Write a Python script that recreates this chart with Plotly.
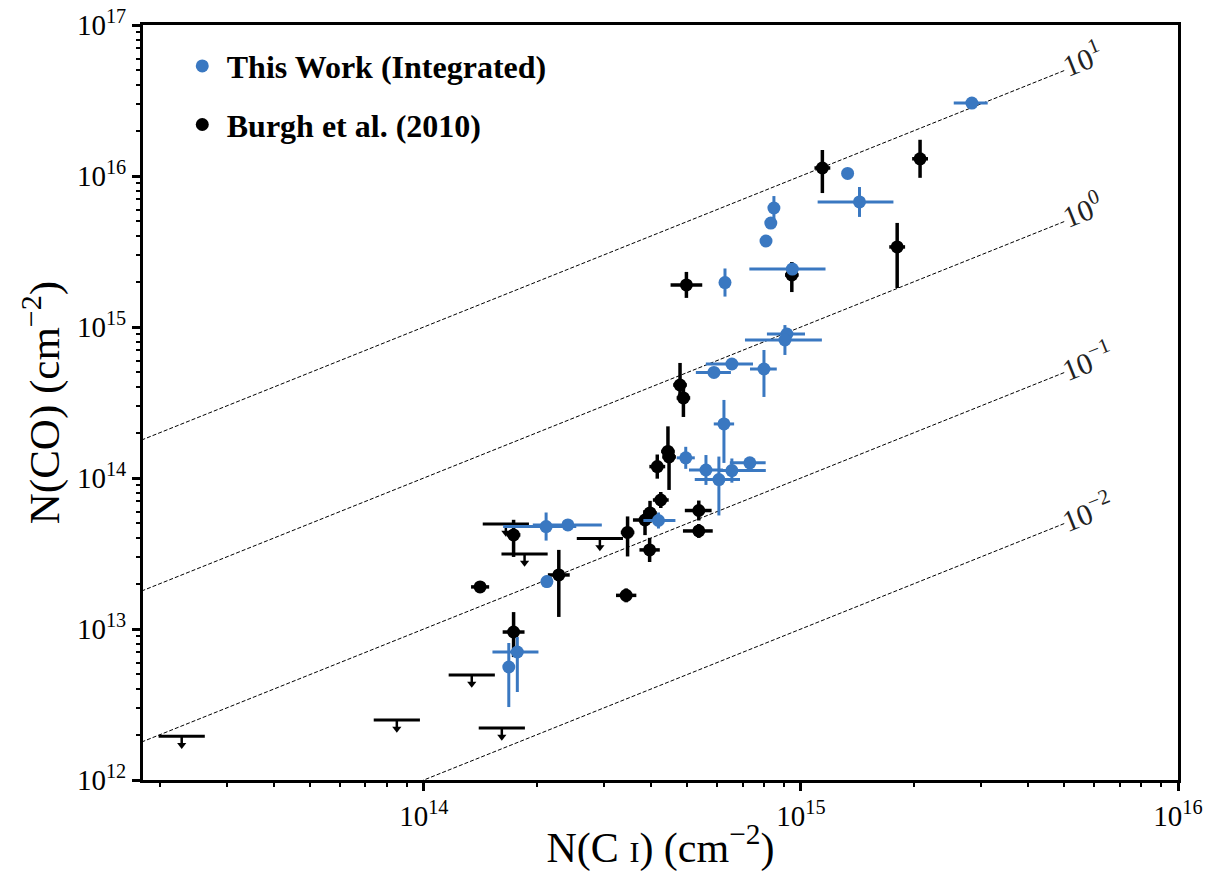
import numpy as np
import plotly.graph_objects as go

# ---------------- data ----------------
# This Work (Integrated): N(C I), N(CO) in cm^-2; errors in dex (lo / hi)
tw_nci = [2.84e15, 1.33e15, 1.43e15, 8.48e14, 8.32e14, 8.08e14, 9.49e14, 6.29e14,
          9.18e14, 9.07e14, 6.56e14, 5.88e14, 7.98e14, 6.25e14, 4.95e14, 7.32e14,
          5.60e14, 6.56e14, 6.06e14, 4.19e14, 2.11e14, 2.41e14, 2.12e14, 1.77e14, 1.68e14]
tw_nco = [3.04e16, 1.04e16, 6.73e15, 6.14e15, 4.88e15, 3.71e15, 2.42e15, 1.97e15,
          8.99e14, 8.20e14, 5.69e14, 5.00e14, 5.27e14, 2.28e14, 1.36e14, 1.26e14,
          1.13e14, 1.12e14, 9.77e13, 5.23e13, 4.77e13, 4.89e13, 2.06e13, 7.04e12, 5.60e12]
tw_nci_lo = [0.048, 0, 0.111, 0, 0, 0, 0.114, 0, 0.053, 0.106, 0.069, 0.048, 0.037,
             0.027, 0.024, 0.053, 0.045, 0.032, 0.064, 0.040, 0.114, 0.093, 0, 0.066, 0.010]
tw_nci_hi = [0.042, 0, 0.090, 0, 0, 0, 0.088, 0, 0.048, 0.098, 0.056, 0.045, 0.034,
             0.027, 0.024, 0.042, 0.045, 0.090, 0.056, 0.045, 0.080, 0.090, 0, 0.056, 0.010]
tw_nco_lo = [0, 0, 0.099, 0.079, 0, 0, 0.04, 0.093, 0.04, 0.099, 0.03, 0, 0.185,
             0.258, 0.073, 0.026, 0.099, 0.08, 0.238, 0.053, 0.093, 0.033, 0.04, 0.265, 0.265]
tw_nco_hi = [0, 0, 0.099, 0.079, 0, 0, 0.04, 0.093, 0.04, 0.099, 0.03, 0, 0.126,
             0.159, 0.073, 0.026, 0.099, 0.08, 0.152, 0.053, 0.093, 0.033, 0.04, 0.099, 0.159]

# Burgh et al. (2010) detections
bu_nci = [2.07e15, 1.14e15, 1.80e15, 9.46e14, 4.97e14, 4.78e14, 4.88e14, 4.44e14,
          4.47e14, 4.16e14, 4.25e14, 3.98e14, 3.86e14, 3.47e14, 3.97e14, 3.44e14,
          5.36e14, 5.36e14, 1.73e14, 1.41e14, 1.73e14, 2.28e14]
bu_nco = [1.30e16, 1.13e16, 3.39e15, 2.21e15, 1.90e15, 4.13e14, 3.39e14, 1.50e14,
          1.38e14, 1.19e14, 7.15e13, 5.87e13, 5.27e13, 4.36e13, 3.34e13, 1.67e13,
          6.09e13, 4.46e13, 4.20e13, 1.90e13, 9.55e12, 2.28e13]
bu_nci_lo = [0.021, 0.021, 0.021, 0.018, 0.042, 0.018, 0.018, 0.018, 0.018, 0.021, 0.021,
             0.018, 0.032, 0.018, 0.027, 0.027, 0.037, 0.042, 0.018, 0.024, 0.029, 0.029]
bu_nci_hi = [0.021, 0.021, 0.021, 0.018, 0.042, 0.018, 0.018, 0.018, 0.018, 0.021, 0.021,
             0.018, 0.032, 0.018, 0.027, 0.027, 0.034, 0.037, 0.018, 0.024, 0.029, 0.029]
bu_nco_lo = [0.126, 0.166, 0.272, 0.113, 0.086, 0.066, 0.126, 0.066, 0.219, 0.08, 0.053,
             0.066, 0.10, 0.159, 0.08, 0.046, 0.066, 0.046, 0.146, 0.026, 0.166, 0.278]
bu_nco_hi = [0.126, 0.119, 0.159, 0.086, 0.086, 0.146, 0.066, 0.166, 0.066, 0.08, 0.053,
             0.08, 0.066, 0.106, 0.08, 0.046, 0.066, 0.046, 0.10, 0.026, 0.132, 0.166]

# Burgh et al. (2010) upper limits on N(CO)
ul_nci = [2.28e13, 8.48e13, 1.34e14, 1.61e14, 1.65e14, 1.85e14, 2.93e14]
ul_nco = [1.95e12, 2.50e12, 4.96e12, 2.21e12, 4.96e13, 3.14e13, 3.97e13]

# constant N(CO)/N(C I) ratio lines
ratios = [10.0, 1.0, 0.1, 0.01]
ratio_labels = ["10<sup>1</sup>", "10<sup>0</sup>", "10<sup>\u22121</sup>", "10<sup>\u22122</sup>"]
ratio_x_span = [1.0e13, 5.0e15]

# axis ticks
x_major = [1e14, 1e15, 1e16]
x_major_text = ["10<sup>14</sup>", "10<sup>15</sup>", "10<sup>16</sup>"]
y_major = [1e12, 1e13, 1e14, 1e15, 1e16, 1e17]
y_major_text = ["10<sup>12</sup>", "10<sup>13</sup>", "10<sup>14</sup>",
                "10<sup>15</sup>", "10<sup>16</sup>", "10<sup>17</sup>"]

BLUE = "#3a78c1"
SERIF = "Liberation Serif"


def err_lin(vals, lo, hi):
    v = np.asarray(vals)
    plus = v * (10 ** np.asarray(hi) - 1)
    minus = v * (1 - 10 ** (-np.asarray(lo)))
    return plus, minus


fig = go.Figure()

for r in ratios:
    fig.add_trace(go.Scatter(
        x=ratio_x_span, y=[r * v for v in ratio_x_span], mode="lines",
        line=dict(color="black", width=1, dash="4px,2px"),
        showlegend=False, hoverinfo="skip"))

# Burgh detections
bxp, bxm = err_lin(bu_nci, bu_nci_lo, bu_nci_hi)
byp, bym = err_lin(bu_nco, bu_nco_lo, bu_nco_hi)
fig.add_trace(go.Scatter(
    x=bu_nci, y=bu_nco, mode="markers", name="<b>Burgh et al. (2010)</b>",
    marker=dict(color="black", size=13),
    error_x=dict(type="data", symmetric=False, array=bxp, arrayminus=bxm,
                 color="black", thickness=3.5, width=0),
    error_y=dict(type="data", symmetric=False, array=byp, arrayminus=bym,
                 color="black", thickness=3.5, width=0),
    legendgroup="b", legendrank=2))

# Upper limits: bar + downward arrow
ul = np.asarray(ul_nco)
shaft = ul * (1 - 10 ** (-0.05))
fig.add_trace(go.Scatter(
    x=ul_nci, y=ul_nco, mode="markers", showlegend=False,
    marker=dict(symbol="line-ew", size=33, color="black",
                line=dict(color="black", width=3)),
    error_y=dict(type="data", symmetric=False, array=np.zeros_like(ul),
                 arrayminus=shaft, color="black", thickness=2.5, width=0)))
fig.add_trace(go.Scatter(
    x=ul_nci, y=ul * 10 ** (-0.058), mode="markers", showlegend=False,
    marker=dict(symbol="triangle-down", size=8, color="black", line=dict(width=0))))

# This work
txp, txm = err_lin(tw_nci, tw_nci_lo, tw_nci_hi)
typ, tym = err_lin(tw_nco, tw_nco_lo, tw_nco_hi)
fig.add_trace(go.Scatter(
    x=tw_nci, y=tw_nco, mode="markers", name="<b>This Work (Integrated)</b>",
    marker=dict(color=BLUE, size=13),
    error_x=dict(type="data", symmetric=False, array=txp, arrayminus=txm,
                 color=BLUE, thickness=3, width=0),
    error_y=dict(type="data", symmetric=False, array=typ, arrayminus=tym,
                 color=BLUE, thickness=3, width=0),
    legendgroup="a", legendrank=1))

# ratio labels
for r, lab in zip(ratios, ratio_labels):
    xe = ratio_x_span[1]
    fig.add_annotation(x=np.log10(xe), y=np.log10(r * xe), text=lab, showarrow=False,
                       xanchor="left", yanchor="middle", xshift=-11, yshift=12,
                       textangle=-21.8, font=dict(family=SERIF, size=30, color="#222222"))

minor_x = [m * 10 ** e for e in range(13, 16) for m in range(2, 10)]
minor_y = [m * 10 ** e for e in range(12, 17) for m in range(2, 10)]

axis_common = dict(
    type="log", showgrid=False, zeroline=False, showline=True, linewidth=3,
    linecolor="black", mirror=True, ticks="outside", ticklen=8, tickwidth=2.5,
    tickcolor="black", tickmode="array", automargin=False,
    tickfont=dict(family=SERIF, size=29, color="black"))

fig.update_xaxes(**axis_common, range=[np.log10(1.8e13), 16],
                 tickvals=x_major, ticktext=x_major_text,
                 minor=dict(ticks="outside", ticklen=4, tickwidth=2, tickcolor="black",
                            tickvals=minor_x, showgrid=False),
                 title=dict(text="N(C <span style='font-size:30px'>I</span>) (cm<sup>\u22122</sup>)",
                            font=dict(family=SERIF, size=42, color="black"), standoff=2))
fig.update_yaxes(**axis_common, range=[12, 17],
                 tickvals=y_major, ticktext=y_major_text,
                 minor=dict(ticks="outside", ticklen=4, tickwidth=2, tickcolor="black",
                            tickvals=minor_y, showgrid=False),
                 title=dict(text="N(CO) (cm<sup>\u22122</sup>)",
                            font=dict(family=SERIF, size=43, color="black"), standoff=4))

fig.update_layout(
    width=1213, height=876, margin=dict(l=143, r=35, t=25, b=96),
    plot_bgcolor="white", paper_bgcolor="white",
    legend=dict(x=0.0336, y=0.982, xanchor="left", yanchor="top",
                font=dict(family=SERIF, size=32, color="black"),
                traceorder="grouped", tracegroupgap=14,
                bgcolor="rgba(0,0,0,0)", itemwidth=39),
)

fig.write_html("out.html")
